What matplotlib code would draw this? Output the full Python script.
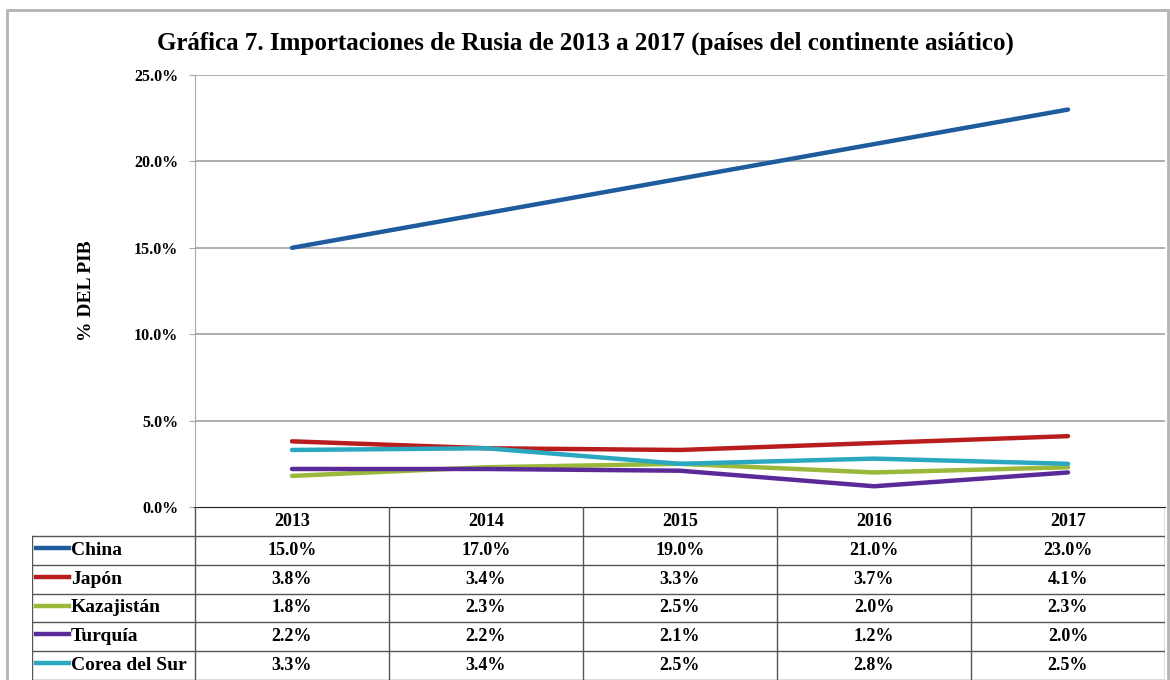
import matplotlib
matplotlib.use('Agg')
import matplotlib.pyplot as plt
from matplotlib.patches import Rectangle

# Importaciones de Rusia, paises asiaticos (% del PIB)
years = ["2013", "2014", "2015", "2016", "2017"]
countries = ["China", "Japón", "Kazajistán", "Turquía", "Corea del Sur"]
china = [15.0, 17.0, 19.0, 21.0, 23.0]
japon = [3.8, 3.4, 3.3, 3.7, 4.1]
kazajistan = [1.8, 2.3, 2.5, 2.0, 2.3]
turquia = [2.2, 2.2, 2.1, 1.2, 2.0]
corea = [3.3, 3.4, 2.5, 2.8, 2.5]
series = [china, japon, kazajistan, turquia, corea]
colors = ["#1f5c9e", "#b81c1c", "#9ab83a", "#5a2a98", "#2aa8c0"]
yticks = [0.0, 5.0, 10.0, 15.0, 20.0, 25.0]

plt.rcParams['font.family'] = ['Liberation Serif', 'DejaVu Serif']
plt.rcParams['font.weight'] = 'bold'

W, H = 1170, 680
fig = plt.figure(figsize=(W / 100, H / 100), dpi=100)

# marco exterior gris
fig.patches.append(Rectangle((7 / W, -0.05), 1161 / W, 1.05 - 10 / H, transform=fig.transFigure,
                             fill=False, edgecolor="#b4b4b4", lw=2))

x0, x1, ytab, ytop = 195, 1165, 507, 75
ax = fig.add_axes([x0 / W, (H - ytab) / H, (x1 - x0) / W, (ytab - ytop) / H])
xs = list(range(len(years)))
for vals, c in zip(series, colors):
    ax.plot(xs, vals, color=c, lw=3.2, solid_capstyle='round', zorder=3)
ax.set_xlim(-0.5, len(years) - 0.5)
ax.set_ylim(0, 25)
ax.set_yticks(yticks)
ax.set_yticklabels([f"{v:.1f}%" for v in yticks], fontsize=11.5, fontweight='bold')
ax.set_xticks([])
for v in yticks[1:]:
    ax.axhline(v, color="#a8a8a8", lw=1.3, zorder=1)
for s in ["top", "right"]:
    ax.spines[s].set_visible(False)
ax.spines["left"].set_color("#a8a8a8")
ax.spines["bottom"].set_color("#202020")
ax.tick_params(axis='y', length=4, color="#a8a8a8", pad=8)
ax.set_ylabel("% DEL PIB", fontsize=14, fontweight='bold', labelpad=28)

fig.suptitle("Gráfica 7. Importaciones de Rusia de 2013 a 2017 (países del continente asiático)",
             x=585 / W, y=1 - 43 / H, va='center', fontsize=18, fontweight='bold')

# tabla de datos
tl = 32
colw = (x1 - x0) / len(years)
xleft = -0.5 - (x0 - tl) / colw
tab = fig.add_axes([tl / W, 0, (x1 - tl) / W, (H - ytab) / H])
nrow = len(countries) + 1
tab.set_xlim(xleft, len(years) - 0.5)
tab.set_ylim(nrow, 0)
tab.axis('off')
lc = "#555555"
tab.plot([-0.5, len(years) - 0.5], [0, 0], color="#202020", lw=1.5)
for r in range(1, nrow + 1):
    tab.plot([xleft, len(years) - 0.5], [r, r], color=lc, lw=1)
tab.plot([xleft, xleft], [1, nrow], color=lc, lw=1)
for k in range(len(years) + 1):
    tab.plot([k - 0.5, k - 0.5], [0, nrow], color=lc, lw=1)
for k, yr in enumerate(years):
    tab.text(k, 0.5, yr, ha='center', va='center', fontsize=13, fontweight='bold')
for i, (name, vals, c) in enumerate(zip(countries, series, colors)):
    r = i + 1.5
    tab.plot([xleft + 0.02, xleft + 0.19], [r - 0.08, r - 0.08], color=c, lw=3.2)
    tab.text(xleft + 0.2, r, name, ha='left', va='center', fontsize=14, fontweight='bold')
    for k, v in enumerate(vals):
        tab.text(k, r, f"{v:.1f}%", ha='center', va='center', fontsize=13, fontweight='bold')

fig.savefig("out.png", dpi=100)
